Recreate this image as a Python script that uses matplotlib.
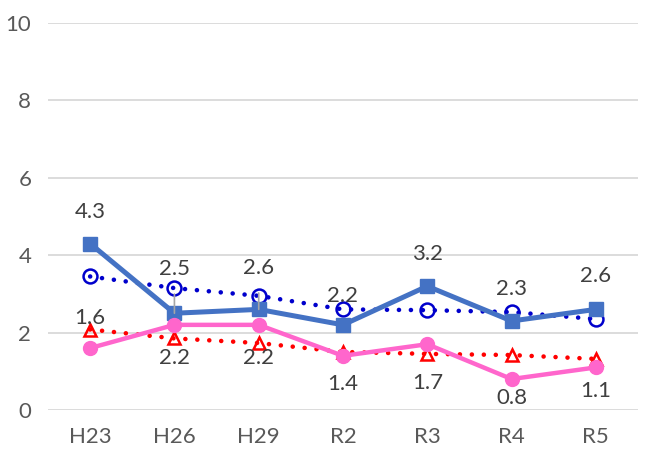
import matplotlib.pyplot as plt

plt.rcParams['font.family'] = ['Lato', 'DejaVu Sans']

# 年度
nendo = ['H23', 'H26', 'H29', 'R2', 'R3', 'R4', 'R5']

# 実線の系列（ラベル付き）
ao_jissen = [4.3, 2.5, 2.6, 2.2, 3.2, 2.3, 2.6]
pink_jissen = [1.6, 2.2, 2.2, 1.4, 1.7, 0.8, 1.1]

# 点線の系列
ao_tensen = [3.45, 3.15, 2.95, 2.6, 2.58, 2.53, 2.35]
aka_tensen = [2.08, 1.85, 1.73, 1.5, 1.45, 1.42, 1.32]

x = list(range(len(nendo)))

fig = plt.figure(figsize=(6.45, 4.69), dpi=100)
ax = fig.add_axes([48 / 645, 59 / 469, 590 / 645, 387 / 469])

dots = (0, (0.01, 2.6))
ax.plot(x, aka_tensen, color='#FF0000', lw=3.3, linestyle=dots, dash_capstyle='round',
        marker='^', ms=9, mfc='none', mec='#FF0000', mew=1.8, zorder=3)
ax.plot(x, ao_tensen, color='#0000CC', lw=3.3, linestyle=dots, dash_capstyle='round',
        marker='o', ms=10, mfc='none', mec='#0000CC', mew=1.8, zorder=3)
ax.plot(x, ao_jissen, color='#4472C4', lw=3.6, marker='s', ms=10, zorder=4)
ax.plot(x, pink_jissen, color='#FF66CC', lw=3.2, marker='o', ms=10, zorder=5)

# ラベルの位置（ポイント単位のずらし）
ao_off = [23, 32, 30, 21, 23, 23, 24]
pink_off = [22, -24, -24, -20, -28, -14, -17]

for i, v in enumerate(ao_jissen):
    if i in (1, 2):
        ax.annotate(f'{v}', (i, v), xytext=(0, ao_off[i]), textcoords='offset points',
                    ha='center', va='center', fontsize=16, color='#404040',
                    arrowprops=dict(arrowstyle='-', color='#A6A6A6', lw=1.2,
                                    shrinkA=9, shrinkB=0), zorder=6)
    else:
        ax.annotate(f'{v}', (i, v), xytext=(0, ao_off[i]), textcoords='offset points',
                    ha='center', va='center', fontsize=16, color='#404040', zorder=6)

for i, v in enumerate(pink_jissen):
    ax.annotate(f'{v}', (i, v), xytext=(0, pink_off[i]), textcoords='offset points',
                ha='center', va='center', fontsize=16, color='#404040', zorder=6)

ax.set_xlim(-0.5, len(nendo) - 0.5)
ax.set_ylim(0, 10)
ax.set_yticks([0, 2, 4, 6, 8, 10])
ax.set_xticks(x)
ax.set_xticklabels(nendo)
ax.grid(axis='y', color='#D9D9D9', lw=1.3)
ax.set_axisbelow(True)
for s in ax.spines.values():
    s.set_visible(False)
ax.tick_params(length=0, labelsize=16, labelcolor='#595959')
ax.tick_params(axis='y', pad=12)
ax.tick_params(axis='x', pad=12)

fig.savefig('out.png', dpi=100)
